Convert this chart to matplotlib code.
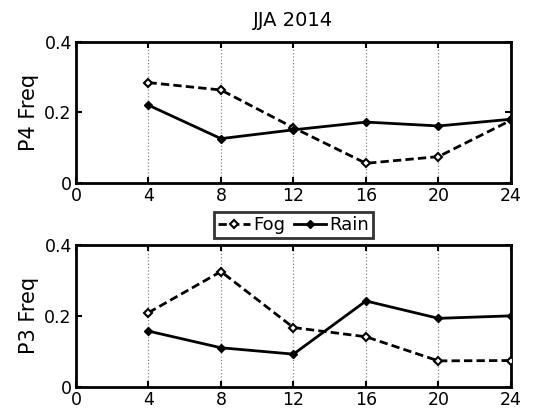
import matplotlib
matplotlib.use("Agg")
import matplotlib.pyplot as plt

hours = [4, 8, 12, 16, 20, 24]
p4_fog = [0.284, 0.263, 0.156, 0.055, 0.074, 0.177]
p4_rain = [0.220, 0.125, 0.150, 0.172, 0.161, 0.180]
p3_fog = [0.209, 0.325, 0.167, 0.141, 0.073, 0.074]
p3_rain = [0.157, 0.110, 0.092, 0.242, 0.193, 0.200]
xticks = [0, 4, 8, 12, 16, 20, 24]
yticks = [0, 0.2, 0.4]
ytick_labels = ["0", "0.2", "0.4"]

plt.rcParams['font.family'] = ['DejaVu Sans']

fig = plt.figure(figsize=(5.35, 4.11), dpi=100)
ax1 = fig.add_axes([0.142, 0.5555, 0.813, 0.343])
ax2 = fig.add_axes([0.142, 0.059, 0.813, 0.345])

def style(ax, fog, rain, ylabel):
    lf, = ax.plot(hours, fog, color='black', linestyle=(0, (3, 1.5)), linewidth=2,
                  marker='D', markersize=4.5, markerfacecolor='white',
                  markeredgecolor='black', markeredgewidth=1.5, label='Fog', zorder=3)
    lr, = ax.plot(hours, rain, color='black', linestyle='-', linewidth=2,
                  marker='D', markersize=4.5, markerfacecolor='black',
                  markeredgecolor='black', label='Rain', zorder=3)
    ax.set_xlim(0, 24)
    ax.set_ylim(0, 0.4)
    ax.set_xticks(xticks)
    ax.set_yticks(yticks)
    ax.set_yticklabels(ytick_labels)
    ax.tick_params(labelsize=12.5, direction='in', length=4, width=1.5, pad=3,
                   top=True, right=True)
    ax.xaxis.grid(True, linestyle=':', color='#888888', linewidth=0.9)
    for s in ax.spines.values():
        s.set_linewidth(2)
    ax.set_ylabel(ylabel, fontsize=15, labelpad=4)
    return lf, lr

lf, lr = style(ax1, p4_fog, p4_rain, 'P4 Freq')
style(ax2, p3_fog, p3_rain, 'P3 Freq')
ax1.set_title('JJA 2014', fontsize=14, pad=11)

leg = fig.legend([lf, lr], ['Fog', 'Rain'], loc='center', bbox_to_anchor=(0.5486, 0.4526),
                 ncol=2, fontsize=13, frameon=True, fancybox=False, handlelength=1.75,
                 handletextpad=0.2, columnspacing=0.5, borderpad=0.2, borderaxespad=0)
leg.get_frame().set_edgecolor('black')
leg.get_frame().set_linewidth(2)

fig.savefig('out.png', dpi=100)
